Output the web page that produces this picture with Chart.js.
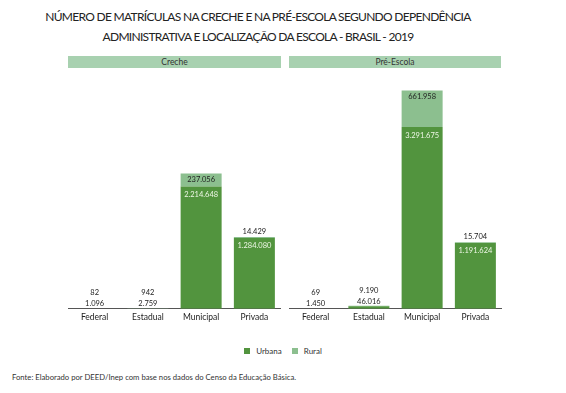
<!DOCTYPE html>
<html>
<head>
<meta charset="utf-8">
<script src="https://cdn.jsdelivr.net/npm/chart.js@4/dist/chart.umd.min.js"></script>
<style>
  body { margin: 0; background: #fff; font-family: Lato, "Open Sans", sans-serif; color: #222; }
  #page { position: relative; width: 566px; height: 393px; overflow: hidden; }
  .title { position: absolute; left: 0; width: 516px; text-align: center; font-size: 12px; letter-spacing: -0.7px; color: #222; }
  .band { position: absolute; top: 56px; height: 12px; background: #a8d1b0; font-size: 8.5px; line-height: 12px; text-align: center; color: #333; }
  .box { position: absolute; top: 88px; height: 237px; }
  #legend { position: absolute; top: 346px; left: 0; width: 566px; text-align: center; font-size: 8px; color: #333; }
  #legend span.sw { display: inline-block; width: 6px; height: 6px; margin: 0 6px 0 0; vertical-align: 0px; }
  #legend span.item { margin: 0 4px; }
  #fonte { position: absolute; left: 12px; top: 372px; font-size: 7.7px; color: #333; }
</style>
</head>
<body>
<div id="page">
  <div class="title" style="top:9px">NÚMERO DE MATRÍCULAS NA CRECHE E NA PRÉ-ESCOLA SEGUNDO DEPENDÊNCIA</div>
  <div class="title" style="top:29px">ADMINISTRATIVA E LOCALIZAÇÃO DA ESCOLA - BRASIL - 2019</div>
  <div class="band" style="left:68px;width:213px">Creche</div>
  <div class="band" style="left:289px;width:212px">Pré-Escola</div>
  <div class="box" style="left:68px;width:213px"><canvas id="creche"></canvas></div>
  <div class="box" style="left:289px;width:213px"><canvas id="preescola"></canvas></div>
  <div id="legend">
    <span class="item"><span class="sw" style="background:#52943e"></span>Urbana</span>
    <span class="item"><span class="sw" style="background:#8cbf8f"></span>Rural</span>
  </div>
  <div id="fonte">Fonte: Elaborado por DEED/Inep com base nos dados do Censo da Educação Básica.</div>
</div>
<script>
const categories = ['Federal', 'Estadual', 'Municipal', 'Privada'];
const crecheUrbana = [1096, 2759, 2214648, 1284080];
const crecheRural = [82, 942, 237056, 14429];
const preUrbana = [1450, 46016, 3291675, 1191624];
const preRural = [69, 9190, 661958, 15704];

const fmt = v => v.toLocaleString('de-DE');

// Draws the value labels the way the original report does
const valueLabels = {
    id: 'valueLabels',
    afterDatasetsDraw(chart) {
        const ctx = chart.ctx;
        const urb = chart.getDatasetMeta(0).data;
        const rur = chart.getDatasetMeta(1).data;
        ctx.save();
        ctx.font = '7.5px Lato, sans-serif';
        ctx.textAlign = 'center';
        ctx.textBaseline = 'middle';
        urb.forEach((bar, i) => {
            const uVal = chart.data.datasets[0].data[i];
            const rVal = chart.data.datasets[1].data[i];
            const uH = bar.base - bar.y;
            let uy;
            if (uH > 16) {
                uy = bar.y + 8;
                ctx.fillStyle = '#eef7e6';
            } else {
                uy = bar.y - 5;
                ctx.fillStyle = '#222';
            }
            ctx.fillText(fmt(uVal), bar.x, uy);

            const r = rur[i];
            const rH = r.base - r.y;
            let ry;
            if (rH > 12) {
                ry = r.y + 6;
            } else {
                ry = Math.min(r.y - 6, uy - 11);
            }
            ctx.fillStyle = '#222';
            ctx.fillText(fmt(rVal), r.x, ry);
        });
        ctx.restore();
    }
};

function makeChart(id, urbana, rural) {
    return new Chart(document.getElementById(id), {
        type: 'bar',
        data: {
            labels: categories,
            datasets: [
                { label: 'Urbana', data: urbana, backgroundColor: '#52943e' },
                { label: 'Rural', data: rural, backgroundColor: '#8cbf8f' }
            ]
        },
        options: {
            responsive: true,
            maintainAspectRatio: false,
            animation: false,
            layout: { padding: 0 },
            datasets: { bar: { barPercentage: 0.77, categoryPercentage: 1 } },
            plugins: {
                legend: { display: false },
                tooltip: { enabled: false }
            },
            scales: {
                x: {
                    stacked: true,
                    grid: { display: false, drawTicks: false, tickLength: 0 },
                    border: { display: true, color: '#555', width: 1 },
                    ticks: { color: '#222', font: { family: 'Lato', size: 8.5 }, padding: 3 }
                },
                y: {
                    stacked: true,
                    display: false,
                    min: 0,
                    max: 4000000
                }
            }
        },
        plugins: [valueLabels]
    });
}

makeChart('creche', crecheUrbana, crecheRural);
makeChart('preescola', preUrbana, preRural);
</script>
</body>
</html>
